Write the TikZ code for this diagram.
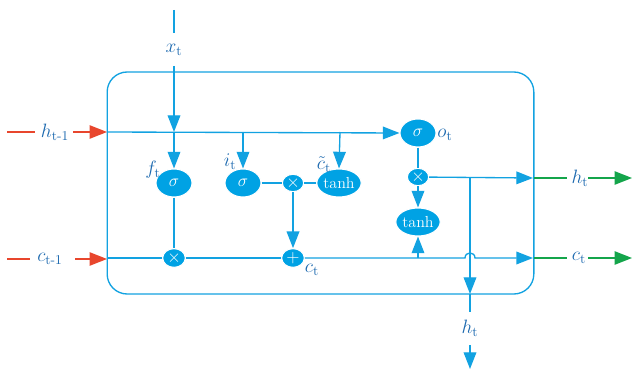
\RequirePackage{fix-cm}
\documentclass[tikz,border=0pt]{standalone}
\usepackage{amsmath}
\usetikzlibrary{shapes.geometric,arrows.meta}
\definecolor{lblue}{RGB}{18,162,225}
\definecolor{nfill}{RGB}{0,162,228}
\definecolor{tblue}{RGB}{28,105,175}
\definecolor{lred}{RGB}{232,70,45}
\definecolor{lgreen}{RGB}{20,165,75}
\tikzset{
  conn/.style={draw=lblue, line width=1pt},
  arr/.style={conn, -{Triangle[length=12.5pt,width=9.5pt]}},
  gate/.style={ellipse, fill=nfill, draw=white, line width=0.8pt, minimum width=27pt, minimum height=21pt, inner sep=0pt, text=white, font=\fontsize{13}{14}\selectfont},
  opnode/.style={ellipse, fill=nfill, draw=white, line width=0.8pt, minimum width=16pt, minimum height=13pt, inner sep=0pt, text=white, font=\fontsize{13}{14}\selectfont},
  lbl/.style={text=tblue, inner sep=0pt, font=\fontsize{14.5}{16}\selectfont},
  redl/.style={draw=lred, line width=1pt},
  redarr/.style={redl, -{Triangle[length=13pt,width=10pt]}},
  grnl/.style={draw=lgreen, line width=1pt},
  grnarr/.style={grnl, -{Triangle[length=13pt,width=10pt]}},
}
\begin{document}
\begin{tikzpicture}[x=0.75pt,y=-0.75pt]
\useasboundingbox (0,0) rectangle (632,370);
% frame
\node[draw=lblue, line width=1pt, rounded corners=15pt, minimum width=320pt, minimum height=166.5pt, inner sep=0pt] (box) at (320.5,183) {};
% gates
\node[gate] (fsig) at (174,183) {$\sigma$};
\node[gate] (isig) at (243,183) {$\sigma$};
\node[opnode] (imul) at (293,183) {$\times$};
\node[gate, font=\fontsize{12}{13}\selectfont] (ctanh) at (339,183) {tanh};
\node[gate] (osig) at (418,133) {$\sigma$};
\node[opnode] (omul) at (418,177) {$\times$};
\node[gate, font=\fontsize{12}{13}\selectfont] (otanh) at (418,222) {tanh};
\node[opnode, minimum width=17pt, minimum height=14pt] (fmul) at (174,258) {$\times$};
\node[opnode, minimum width=17pt, minimum height=14pt] (cplus) at (293,258) {$+$};
% coordinates
\coordinate (xtop) at (174,10);
\coordinate (xend) at (174,33);
\coordinate (xres) at (174,66);
\coordinate (hin) at (107,132);
\coordinate (hf) at (174,132);
\coordinate (hi) at (243,132);
\coordinate (hc) at (340,132);
\coordinate (cin) at (107,258);
\coordinate (jl) at (465,258);
\coordinate (jr) at (475,258);
\coordinate (cout) at (533,258);
\coordinate (hout) at (533,178);
\coordinate (hsplit) at (470,178);
\coordinate (hdown) at (470,294);
\coordinate (hdend) at (470,312);
\coordinate (hd2) at (470,345);
\coordinate (hd3) at (470,369);
\coordinate (ctap) at (418,258);
% labels
\node[lbl] (xl) at (174,50) {$x_{\mathrm{t}}$};
\node[lbl] (fl) at (153,170) {$f_{\mathrm{t}}$};
\node[lbl] (il) at (230,162) {$i_{\mathrm{t}}$};
\node[lbl] (cl) at (324,165) {$\tilde{c}_{\mathrm{t}}$};
\node[lbl] (ol) at (445,135) {$o_{\mathrm{t}}$};
\node[lbl] (ctl) at (312,270) {$c_{\mathrm{t}}$};
\node[lbl] (hdl) at (470,328) {$h_{\mathrm{t}}$};
\node[lbl] (hprev) at (55,132) {$h_{\text{t-1}}$};
\node[lbl] (cprev) at (50,259) {$c_{\text{t-1}}$};
\node[lbl] (hnext) at (580,178) {$h_{\mathrm{t}}$};
\node[lbl] (cnext) at (579,258) {$c_{\mathrm{t}}$};
% red inputs
\coordinate (r1a) at (7,132); \coordinate (r1b) at (35,132); \coordinate (r1c) at (73,132);
\coordinate (r2a) at (7,259); \coordinate (r2b) at (30,259); \coordinate (r2c) at (75,259);
\coordinate (cin2) at (107,259);
\draw[redl] (r1a) -- (r1b);
\draw[redarr] (r1c) -- (hin);
\draw[redl] (r2a) -- (r2b);
\draw[redarr] (r2c) -- (cin2);
% green outputs
\coordinate (g1a) at (534,178); \coordinate (g1b) at (567,178); \coordinate (g1c) at (588,178); \coordinate (g1d) at (632,178);
\coordinate (g2a) at (534,258); \coordinate (g2b) at (567,258); \coordinate (g2c) at (588,258); \coordinate (g2d) at (632,258);
\draw[grnl] (g1a) -- (g1b);
\draw[grnarr] (g1c) -- (g1d);
\draw[grnl] (g2a) -- (g2b);
\draw[grnarr] (g2c) -- (g2d);
% x input
\draw[conn] (xtop) -- (xend);
\draw[arr] (xres) -- (hf);
\draw[arr] (hf) -- (fsig.north);
% h line
\draw[arr] (hin) -- (osig.west);
\draw[arr] (hi) -- (isig.north);
\draw[arr] (hc) -- (ctanh.north);
% gates connections
\draw[conn] (fsig) -- (fmul);
\draw[conn] (isig) -- (imul);
\draw[conn] (imul) -- (ctanh);
\draw[arr] (imul) -- (cplus.north);
\draw[conn] (osig) -- (omul);
\draw[arr] (omul) -- (otanh.north);
\draw[arr] (ctap) -- (otanh.south);
% c line
\draw[conn] (cin) -- (fmul) -- (cplus);
\draw[arr] (cplus) -- (jl) .. controls (465,251.3) and (475,251.3) .. (jr) -- (cout);
% h output
\draw[arr] (omul) -- (hout);
\draw[arr] (hsplit) -- (hdown);
\draw[conn] (hdown) -- (hdend);
\draw[arr] (hd2) -- (hd3);
\end{tikzpicture}
\end{document}
